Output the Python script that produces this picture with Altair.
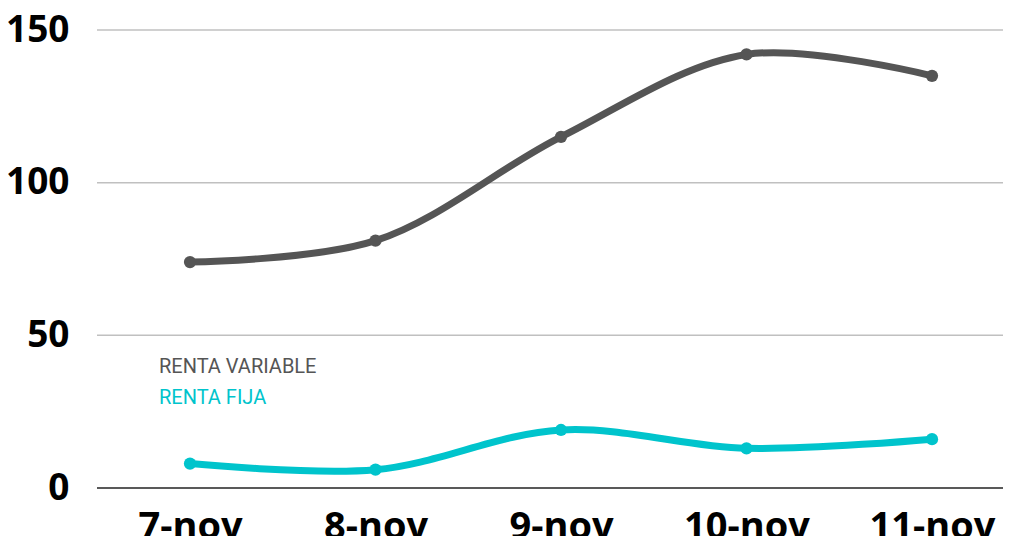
import altair as alt
import pandas as pd

fechas = ["7-nov", "8-nov", "9-nov", "10-nov", "11-nov"]
renta_variable = [74, 81, 115, 142, 135]
renta_fija = [8, 6, 19, 13, 16]
series = ["RENTA VARIABLE", "RENTA FIJA"]
colores = ["#555555", "#00C4CC"]
y_ticks = [0, 50, 100, 150]

rows = []
for s, vals in zip(series, [renta_variable, renta_fija]):
    for f, v in zip(fechas, vals):
        rows.append({"fecha": f, "valor": v, "serie": s})
df = pd.DataFrame(rows)

x = alt.X(
    "fecha:N", sort=fechas,
    scale=alt.Scale(type="point", range=[93, 835], padding=0),
    axis=alt.Axis(title=None, labelAngle=0, labelFontSize=38, labelFont="Open Sans",
                  labelFontWeight="bold", labelColor="#000000", ticks=False, domain=False,
                  labelPadding=20, grid=False),
)
y = alt.Y(
    "valor:Q",
    scale=alt.Scale(domain=[0, 150], nice=False),
    axis=alt.Axis(values=y_ticks, title=None, labelFontSize=37, labelFont="Open Sans",
                  labelFontWeight="bold", labelColor="#000000", ticks=False, domain=False,
                  labelPadding=28, grid=False),
)
color = alt.Color("serie:N", scale=alt.Scale(domain=series, range=colores), legend=None)

grid = alt.Chart(pd.DataFrame({"v": y_ticks[1:]})).mark_rule(
    color="#C0C0C0", strokeWidth=1.5
).encode(y=alt.Y("v:Q", scale=alt.Scale(domain=[0, 150], nice=False)))

zero = alt.Chart(pd.DataFrame({"v": y_ticks[:1]})).mark_rule(
    color="#595959", strokeWidth=2
).encode(y=alt.Y("v:Q"))

base = alt.Chart(df).encode(x=x, y=y, color=color)
lines = base.mark_line(interpolate="catmull-rom", strokeWidth=7)
points = base.mark_circle(size=150, opacity=1)

leg_df = pd.DataFrame({"serie": series})
leg_color = alt.Color("serie:N", scale=alt.Scale(domain=series, range=colores), legend=None)
leg1 = alt.Chart(leg_df).transform_filter(alt.datum.serie == series[0]).mark_text(
    align="left", baseline="alphabetic", fontSize=20, font="Roboto"
).encode(x=alt.value(62), y=alt.value(343), text="serie:N", color=leg_color)
leg2 = alt.Chart(leg_df).transform_filter(alt.datum.serie == series[1]).mark_text(
    align="left", baseline="alphabetic", fontSize=20, font="Roboto"
).encode(x=alt.value(62), y=alt.value(373.5), text="serie:N", color=leg_color)

chart = alt.layer(grid, zero, lines, points, leg1, leg2).properties(
    width=906, height=458,
    autosize=alt.AutoSizeParams(type="none"),
    padding={"left": 89, "top": 22, "right": 0, "bottom": 48},
    background="white",
).configure_view(stroke=None)

chart.save("out.html", embed_options={"renderer": "svg", "actions": False})
